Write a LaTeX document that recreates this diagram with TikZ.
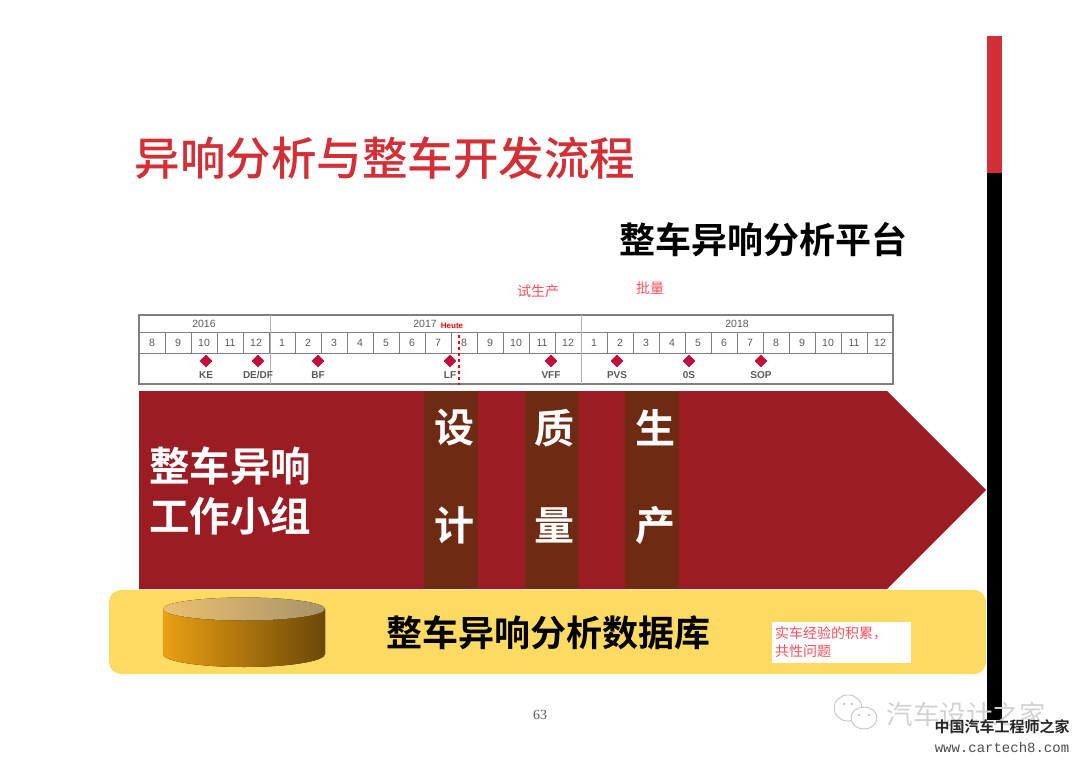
\documentclass[tikz,border=0pt]{standalone}
\usepackage{fontspec}
\setmainfont{Liberation Sans}
\newfontfamily\cjk[BoldFont={Noto Sans CJK SC Bold}]{Noto Sans CJK SC}
\newfontfamily\cjkmed{Noto Sans CJK SC Medium}
\newfontfamily\monofam{Liberation Mono}
\newfontfamily\serifam{Liberation Serif}
\usetikzlibrary{shapes.geometric}
\definecolor{slidered}{HTML}{D32F36}
\definecolor{arrowred}{HTML}{9B1C22}
\definecolor{barbrown}{HTML}{6E2A12}
\definecolor{baseyellow}{HTML}{FDDB62}
\definecolor{notered}{HTML}{FF4D55}
\definecolor{gridgray}{HTML}{7F7F7F}
\definecolor{labelgray}{HTML}{595959}
\definecolor{markred}{HTML}{C00D3C}
\definecolor{drumleft}{HTML}{EBA013}
\definecolor{drumright}{HTML}{6B4708}
\definecolor{lidleft}{HTML}{EBC070}
\definecolor{lidright}{HTML}{A89368}
\tikzset{
  cjktext/.style={font=\cjk\fontsize{#1}{#1}\selectfont,inner sep=0pt},
  cjkbold/.style={font=\cjk\bfseries\fontsize{#1}{#1}\selectfont,inner sep=0pt},
  monthlabel/.style={font=\fontsize{10.5}{10.5}\selectfont,text=labelgray,inner sep=0pt},
  milelabel/.style={font=\bfseries\fontsize{10}{10}\selectfont,text=labelgray,inner sep=0pt},
  milemark/.style={diamond,fill=markred,minimum size=13pt,inner sep=0pt},
}
\begin{document}
\begin{tikzpicture}[x=1pt,y=-1pt]
  \useasboundingbox (0,0) rectangle (1080,763);
  % side bar
  \fill[slidered] (987,36) rectangle (1002,173);
  \fill[black] (987,173) rectangle (1002,720);
  % titles
  \node[font=\cjkmed\fontsize{45.5}{45.5}\selectfont,inner sep=0pt,text=slidered] (title) at (385,158) {异响分析与整车开发流程};
  \node[cjkbold=36] (platform) at (763,240) {整车异响分析平台};
  \node[cjktext=14,text=notered] (trial) at (538,291) {试生产};
  \node[cjktext=14,text=notered] (batch) at (650,288) {批量};
  % time table
  \foreach \m [count=\i from 0] in {8,9,10,11,12,1,2,3,4,5,6,7,8,9,10,11,12,1,2,3,4,5,6,7,8,9,10,11,12} {
    \draw[gridgray,line width=0.9pt] ({139+26*\i},332) rectangle ({165+26*\i},353);
    \node[monthlabel] (month\i) at ({152+26*\i},342.5) {\m};
  }
  \draw[gridgray,line width=1.1pt] (139,315) rectangle (893,384);
  \draw[gridgray,line width=0.9pt] (139,332) -- (893,332);
  \draw[gridgray!60,line width=0.8pt] (270,315) -- (270,384);
  \draw[gridgray!60,line width=0.8pt] (581,315) -- (581,384);
  \node[monthlabel] (year2016) at (204,324) {2016};
  \node[monthlabel] (year2017) at (425,324) {2017};
  \node[monthlabel] (year2018) at (737,324) {2018};
  \node[font=\bfseries\fontsize{8}{8}\selectfont,text=red,inner sep=0pt] (today) at (452,325.5) {Heute};
  \foreach \x/\name in {206/KE,258/DE\slash DF,318/BF,450/LF,551/VFF,617/PVS,689/0S,761/SOP} {
    \node[milemark] (mark\x) at (\x,361) {};
    \node[milelabel] (mile\x) at (\x,375) {\name};
  }
  \draw[red,dashed,line width=1.2pt] (459,335) -- (459,385);
  % main arrow
  \fill[arrowred] (139,391) -- (887,391) -- (986,490) -- (887,589) -- (139,589) -- cycle;
  \foreach \x/\top/\bot in {451/设/计,551.5/质/量,652/生/产} {
    \fill[barbrown] (\x-27,391) rectangle (\x+27,589);
    \node[cjkbold=40,text=white] (top\x) at (\x+3,428) {\top};
    \node[cjkbold=40,text=white] (bot\x) at (\x+3,525) {\bot};
  }
  \node[cjkbold=40.5,text=white] (groupa) at (230,466) {整车异响};
  \node[cjkbold=40.5,text=white] (groupb) at (230,516) {工作小组};
  % data base
  \fill[baseyellow,rounded corners=12pt] (109,590) rectangle (986,674);
  \fill[left color=drumleft,right color=drumright] (163,609) -- (163,654) arc[start angle=180,end angle=360,x radius=81,y radius=-13] -- (325,609) -- cycle;
  \fill[left color=lidleft,right color=lidright] (244,609) ellipse[x radius=81,y radius=11.5];
  \node[cjkbold=36] (database) at (548,633) {整车异响分析数据库};
  \fill[white] (772,622) rectangle (911,663);
  \node[text=notered,align=left,anchor=west,inner sep=0pt,font=\cjk\fontsize{14}{18}\selectfont] (note) at (775,642) {实车经验的积累，\\共性问题};
  \node[font=\serifam\fontsize{14}{14}\selectfont,text=labelgray,inner sep=0pt] (page) at (540,715) {63};
  % watermark
  \draw[gray!50,fill=white,line width=0.8pt] (848,708) ellipse[x radius=14,y radius=13];
  \draw[gray!50,fill=white,line width=0.8pt] (864,718) ellipse[x radius=13,y radius=11];
  \fill[gray!60] (844,704) circle (1.2) (852,704) circle (1.2) (859,715) circle (1.2) (869,715) circle (1.2);
  \node[cjktext=26.5,text=gray!35] (wechat) at (966,714) {汽车设计之家};
  \node[cjkbold=15,text=black!85] (site) at (1002,727) {中国汽车工程师之家};
  \node[font=\monofam\fontsize{14}{14}\selectfont,text=black!70,inner sep=0pt] (url) at (1002,747) {www.cartech8.com};
\end{tikzpicture}
\end{document}
